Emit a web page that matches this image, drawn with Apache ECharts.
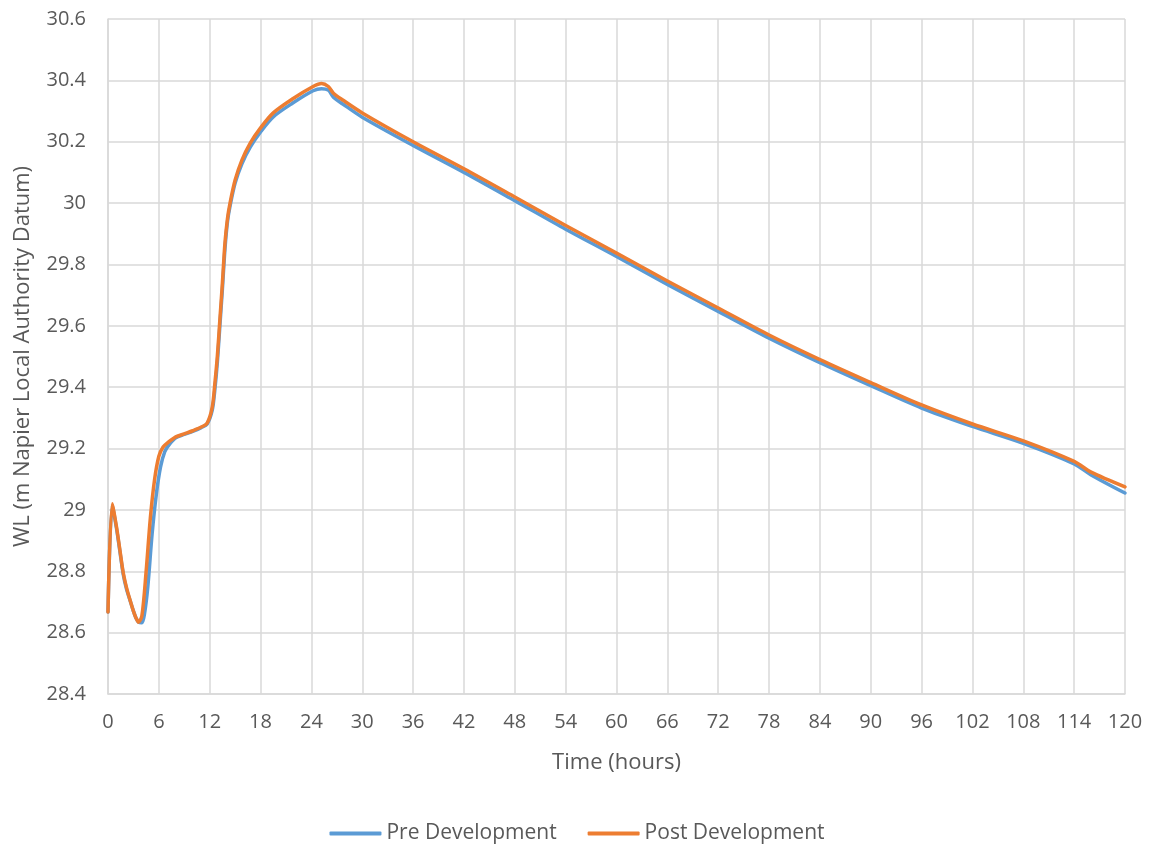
<!DOCTYPE html>
<html>
<head>
<meta charset="utf-8">
<script src="https://cdn.jsdelivr.net/npm/echarts@6/dist/echarts.min.js"></script>
<style>html,body{margin:0;padding:0;background:#fff}#c{width:1154px;height:850px}</style>
</head>
<body>
<div id="c"></div>
<script>
const xTicks = [0,6,12,18,24,30,36,42,48,54,60,66,72,78,84,90,96,102,108,114,120];
const yTicks = [28.4,28.6,28.8,29.0,29.2,29.4,29.6,29.8,30.0,30.2,30.4,30.6];

const preTime = [0,0.5,1.0,1.4,1.8,2.2,2.6,3.0,3.3,3.6,4.0,4.3,4.7,5.2,5.7,6.2,6.7,7.2,8,9,10,11,11.7,12.3,12.6,12.9,13.2,13.5,13.8,14.1,14.4,15.0,15.8,16.8,18.0,19.5,21.8,24.2,25.2,26.0,26.6,27.7,30,36,42,48,54,60,66,72,78,84,90,96,102,108,114,116,120];
const preWL = [28.667,29.015,28.94,28.865,28.79,28.74,28.705,28.67,28.648,28.634,28.632,28.66,28.75,28.92,29.05,29.14,29.19,29.212,29.235,29.246,29.256,29.268,29.28,29.325,29.39,29.48,29.6,29.72,29.85,29.94,29.99,30.065,30.128,30.183,30.232,30.281,30.326,30.366,30.373,30.368,30.345,30.323,30.28,30.188,30.1,30.008,29.915,29.826,29.735,29.647,29.56,29.48,29.405,29.332,29.272,29.217,29.15,29.114,29.055];

const postTime = [0,0.5,1.0,1.4,1.8,2.2,2.6,3.0,3.3,3.6,4.0,4.5,5.0,5.5,6.0,6.5,7.0,8,9,10,11,11.7,12.3,12.6,12.9,13.2,13.5,13.8,14.1,14.4,15.0,15.8,16.8,18.0,19.5,21.8,24.2,25.2,26.0,26.6,27.7,30,36,42,48,54,60,66,72,78,84,90,96,102,108,114,116,120];
const postWL = [28.667,29.02,28.945,28.87,28.795,28.745,28.706,28.67,28.648,28.634,28.655,28.8,28.975,29.1,29.175,29.205,29.218,29.238,29.248,29.258,29.27,29.283,29.335,29.41,29.5,29.62,29.74,29.87,29.95,30.0,30.075,30.14,30.196,30.245,30.294,30.34,30.38,30.39,30.38,30.358,30.336,30.294,30.2,30.112,30.02,29.927,29.837,29.746,29.658,29.57,29.49,29.415,29.342,29.28,29.225,29.158,29.123,29.075];

const seriesNames = ['Pre Development','Post Development'];
const xTitle = 'Time (hours)';
const yTitle = 'WL (m Napier Local Authority Datum)';

const pair = (t, v) => t.map((x, i) => [x, v[i]]);
const FONT = 'Open Sans';
const TXT = '#595959';
const GRID = '#d9d9d9';

const chart = echarts.init(document.getElementById('c'));
chart.setOption({
  animation: false,
  backgroundColor: '#fff',
  grid: {left: 108, right: 29, top: 19, bottom: 156, containLabel: false},
  legend: {
    bottom: 1,
    left: 'center',
    itemWidth: 52,
    itemHeight: 4,
    itemGap: 31,
    icon: 'roundRect',
    textStyle: {fontFamily: FONT, fontSize: 21, color: TXT},
    data: seriesNames
  },
  xAxis: {
    type: 'value',
    min: xTicks[0],
    max: xTicks[xTicks.length - 1],
    interval: 6,
    name: xTitle,
    nameLocation: 'middle',
    nameGap: 58,
    nameTextStyle: {fontFamily: FONT, fontSize: 22, color: TXT},
    axisLine: {show: true, lineStyle: {color: GRID, width: 1.5}},
    axisTick: {show: false},
    axisLabel: {fontFamily: FONT, fontSize: 20, color: TXT, margin: 18, formatter: v => String(v)},
    splitLine: {show: true, lineStyle: {color: GRID, width: 1.5}}
  },
  yAxis: {
    type: 'value',
    min: yTicks[0],
    max: yTicks[yTicks.length - 1],
    interval: 0.2,
    name: yTitle,
    nameLocation: 'middle',
    nameGap: 74,
    nameTextStyle: {fontFamily: FONT, fontSize: 22, color: TXT},
    axisLine: {show: true, lineStyle: {color: GRID, width: 1.5}},
    axisTick: {show: false},
    axisLabel: {fontFamily: FONT, fontSize: 20, color: TXT, margin: 22, formatter: v => String(+v.toFixed(1))},
    splitLine: {show: true, lineStyle: {color: GRID, width: 1.5}}
  },
  series: [
    {
      name: seriesNames[0], type: 'line', data: pair(preTime, preWL),
      symbol: 'none', smooth: 0.3, color: '#5B9BD5',
      lineStyle: {width: 3.5, color: '#5B9BD5', cap: 'round', join: 'round'}
    },
    {
      name: seriesNames[1], type: 'line', data: pair(postTime, postWL),
      symbol: 'none', smooth: 0.3, color: '#ED7D31',
      lineStyle: {width: 3.5, color: '#ED7D31', cap: 'round', join: 'round'}
    }
  ]
});
</script>
</body>
</html>
